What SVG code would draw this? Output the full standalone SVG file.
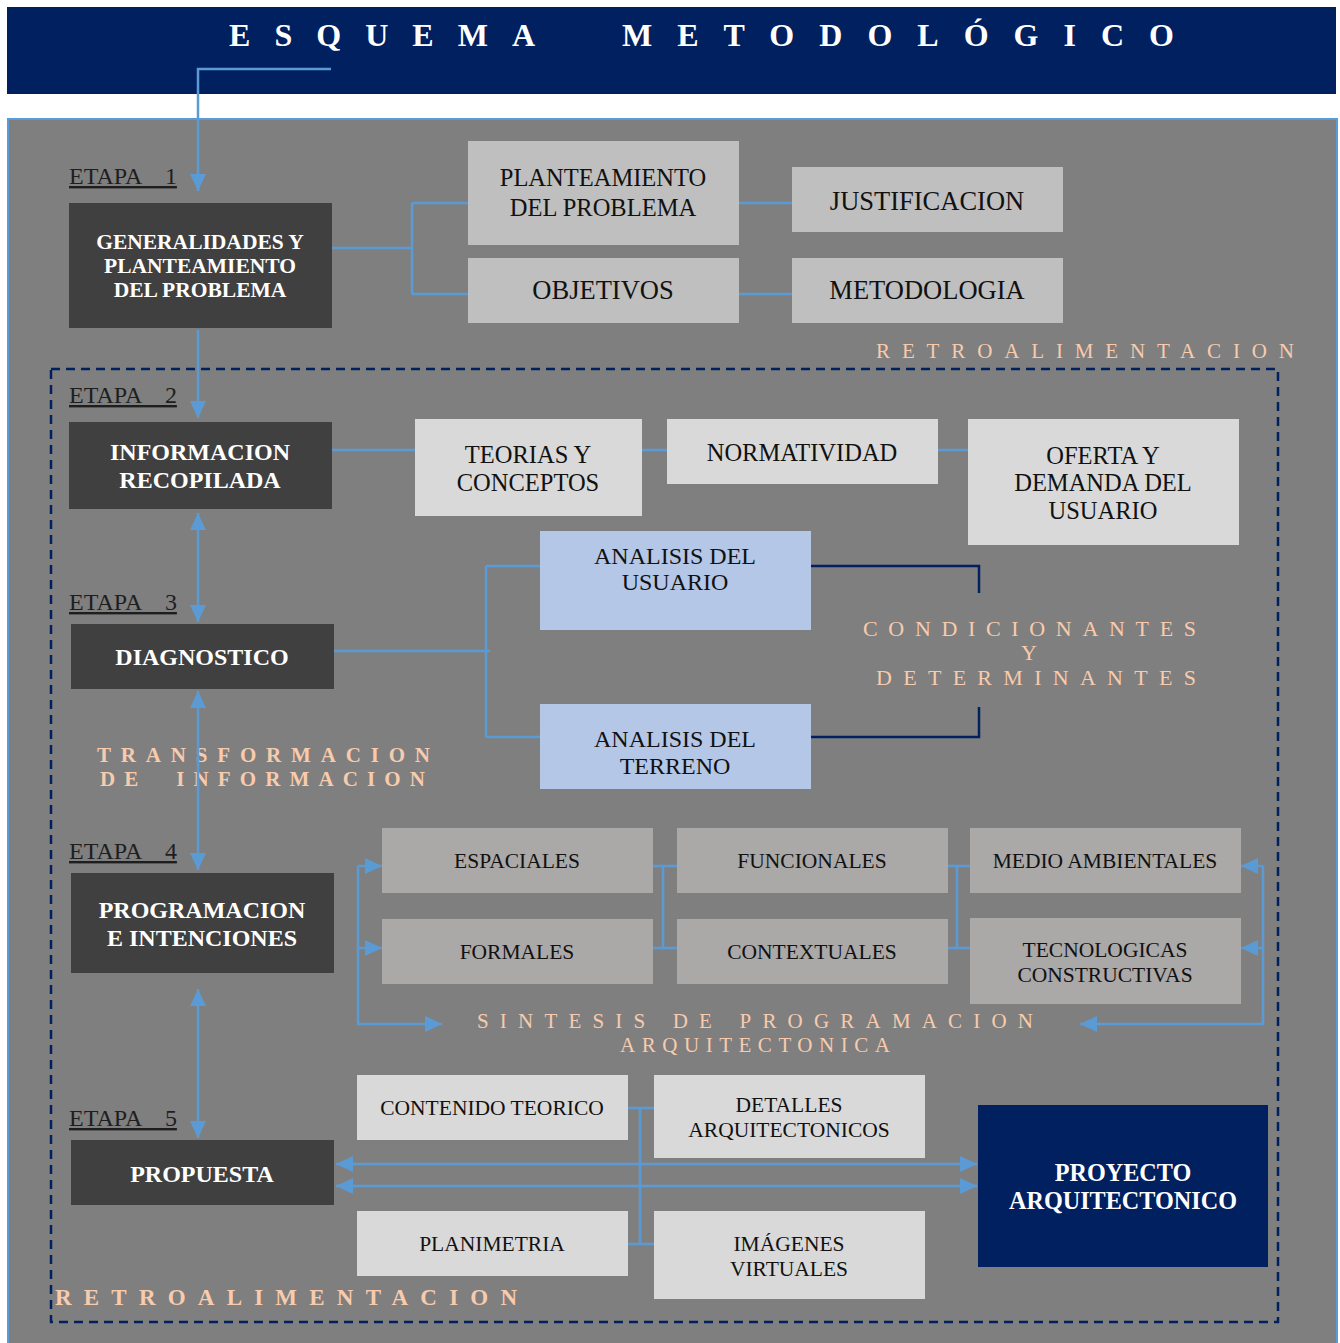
<svg xmlns="http://www.w3.org/2000/svg" width="1340" height="1343" viewBox="0 0 1340 1343">
<style>
.t{font-family:"Liberation Serif","Times New Roman",serif;}
.dk{fill:#404040;}
.l1{fill:#BFBFBF;}
.l2{fill:#D9D9D9;}
.l4{fill:#ABA8A8;}
.bl{fill:#B4C7E7;}
.wb{font-family:"Liberation Serif","Times New Roman",serif;font-weight:bold;fill:#FFFFFF;text-anchor:middle;}
.bk{font-family:"Liberation Serif","Times New Roman",serif;fill:#111111;text-anchor:middle;}
.et{font-family:"Liberation Serif","Times New Roman",serif;font-size:24px;fill:#1E1E1E;text-decoration:underline;white-space:pre;}
.pe{font-family:"Liberation Serif","Times New Roman",serif;fill:#F8CBAD;}
.cn{fill:none;stroke:#5B9BD5;stroke-width:2.5;}
.nv{fill:none;stroke:#002060;stroke-width:2.5;}
</style>
<defs>
<marker id="ah" markerUnits="userSpaceOnUse" markerWidth="17" markerHeight="16" refX="17" refY="8" orient="auto-start-reverse">
<path d="M0,0 L17,8 L0,16 z" fill="#5B9BD5"/>
</marker>
</defs>
<rect width="1340" height="1343" fill="#FFFFFF"/>
<g id="title">
<rect x="7" y="7" width="1329" height="87" fill="#002060"/>
<text class="t" x="229" y="46" font-size="32" font-weight="bold" fill="#FFFFFF" textLength="306" lengthAdjust="spacing">ESQUEMA</text>
<text class="t" x="622" y="46" font-size="32" font-weight="bold" fill="#FFFFFF" textLength="552" lengthAdjust="spacing">METODOLÓGICO</text>
</g>
<g id="panel">
<rect x="8" y="119" width="1329" height="1230" fill="#7F7F7F" stroke="#5B9BD5" stroke-width="2"/>
<rect x="51" y="369" width="1227" height="953" fill="none" stroke="#002060" stroke-width="2.5" stroke-dasharray="9,6"/>
</g>
<g id="labels">
<text class="et" x="69" y="184" xml:space="preserve">ETAPA    1</text>
<text class="et" x="69" y="403" xml:space="preserve">ETAPA    2</text>
<text class="et" x="69" y="610" xml:space="preserve">ETAPA    3</text>
<text class="et" x="69" y="859" xml:space="preserve">ETAPA    4</text>
<text class="et" x="69" y="1126" xml:space="preserve">ETAPA    5</text>
<text class="pe" x="876" y="358" font-size="21" textLength="418" lengthAdjust="spacing">RETROALIMENTACION</text>
<text class="pe" x="55" y="1305" font-size="23" font-weight="bold" textLength="462" lengthAdjust="spacing">RETROALIMENTACION</text>
<text class="pe" x="863" y="636" font-size="22" textLength="333" lengthAdjust="spacing">CONDICIONANTES</text>
<text class="pe" x="1029" y="660" font-size="22" text-anchor="middle">Y</text>
<text class="pe" x="876" y="685" font-size="22" textLength="320" lengthAdjust="spacing">DETERMINANTES</text>
<text class="pe" x="97" y="762" font-size="21" font-weight="bold" textLength="333" lengthAdjust="spacing">TRANSFORMACION</text>
<text class="pe" x="100" y="786" font-size="21" font-weight="bold" textLength="325" lengthAdjust="spacing" xml:space="preserve">DE  INFORMACION</text>
<text class="pe" x="477" y="1028" font-size="21" textLength="556" lengthAdjust="spacing" xml:space="preserve">SINTESIS DE PROGRAMACION</text>
<text class="pe" x="620" y="1052" font-size="21" textLength="270" lengthAdjust="spacing">ARQUITECTONICA</text>
</g>
<g id="connectors">
<path class="cn" d="M331,69 H198 V191" marker-end="url(#ah)"/>
<path class="cn" d="M332,248 H412 M412,203 V294 M412,203 H468 M412,294 H468 M739,203 H792 M739,294 H792"/>
<path class="cn" d="M198,330 V418" marker-end="url(#ah)"/>
<path class="cn" d="M332,450 H415 M642,450 H667 M938,450 H968"/>
<path class="cn" d="M198,513 V622" marker-start="url(#ah)" marker-end="url(#ah)"/>
<path class="cn" d="M334,651 H490 M486,566 V737 M486,566 H540 M486,737 H540"/>
<path class="nv" d="M811,566 H979 V593 M811,737 H979 V707"/>
<path class="cn" d="M198,691 V870" marker-start="url(#ah)" marker-end="url(#ah)"/>
<path class="cn" d="M653,866 H677 M653,948 H677 M663,866 V948 M948,866 H970 M948,948 H970 M957,866 V948"/>
<path class="cn" d="M358,866 H382" marker-end="url(#ah)"/>
<path class="cn" d="M358,948 H382" marker-end="url(#ah)"/>
<path class="cn" d="M358,866 V1024 H442" marker-end="url(#ah)"/>
<path class="cn" d="M1263,866 H1241" marker-end="url(#ah)"/>
<path class="cn" d="M1263,948 H1241" marker-end="url(#ah)"/>
<path class="cn" d="M1263,866 V1024 H1080" marker-end="url(#ah)"/>
<path class="cn" d="M198,989 V1138" marker-start="url(#ah)" marker-end="url(#ah)"/>
<path class="cn" d="M628,1108 H654 M628,1244 H654 M640,1108 V1244"/>
<path class="cn" d="M336,1164 H977" marker-start="url(#ah)" marker-end="url(#ah)"/>
<path class="cn" d="M336,1186 H977" marker-start="url(#ah)" marker-end="url(#ah)"/>
</g>
<g id="n-generalidades"><rect class="dk" x="69" y="203" width="263" height="125"/>
<text class="wb" font-size="21.5"><tspan x="200" y="249">GENERALIDADES Y</tspan><tspan x="200" y="273">PLANTEAMIENTO</tspan><tspan x="200" y="297">DEL PROBLEMA</tspan></text></g>
<g id="n-planteamiento"><rect class="l1" x="468" y="141" width="271" height="104"/>
<text class="bk" font-size="24.5"><tspan x="603" y="186">PLANTEAMIENTO</tspan><tspan x="603" y="216">DEL PROBLEMA</tspan></text></g>
<g id="n-justificacion"><rect class="l1" x="792" y="167" width="271" height="65"/>
<text class="bk" font-size="26.5" x="927" y="210">JUSTIFICACION</text></g>
<g id="n-objetivos"><rect class="l1" x="468" y="258" width="271" height="65"/>
<text class="bk" font-size="26.5" x="603" y="299">OBJETIVOS</text></g>
<g id="n-metodologia"><rect class="l1" x="792" y="258" width="271" height="65"/>
<text class="bk" font-size="26.5" x="927" y="299">METODOLOGIA</text></g>
<g id="n-informacion"><rect class="dk" x="69" y="422" width="263" height="87"/>
<text class="wb" font-size="24"><tspan x="200" y="460">INFORMACION</tspan><tspan x="200" y="488">RECOPILADA</tspan></text></g>
<g id="n-teorias"><rect class="l2" x="415" y="419" width="227" height="97"/>
<text class="bk" font-size="24.5"><tspan x="528" y="463">TEORIAS Y</tspan><tspan x="528" y="491">CONCEPTOS</tspan></text></g>
<g id="n-normatividad"><rect class="l2" x="667" y="419" width="271" height="65"/>
<text class="bk" font-size="24.5" x="802" y="461">NORMATIVIDAD</text></g>
<g id="n-oferta"><rect class="l2" x="968" y="419" width="271" height="126"/>
<text class="bk" font-size="24.5"><tspan x="1103" y="464">OFERTA Y</tspan><tspan x="1103" y="491">DEMANDA DEL</tspan><tspan x="1103" y="519">USUARIO</tspan></text></g>
<g id="n-diagnostico"><rect class="dk" x="71" y="624" width="263" height="65"/>
<text class="wb" font-size="24" x="202" y="665">DIAGNOSTICO</text></g>
<g id="n-usuario"><rect class="bl" x="540" y="531" width="271" height="99"/>
<text class="bk" font-size="24"><tspan x="675" y="564">ANALISIS DEL</tspan><tspan x="675" y="590">USUARIO</tspan></text></g>
<g id="n-terreno"><rect class="bl" x="540" y="704" width="271" height="85"/>
<text class="bk" font-size="24"><tspan x="675" y="747">ANALISIS DEL</tspan><tspan x="675" y="774">TERRENO</tspan></text></g>
<g id="n-programacion"><rect class="dk" x="71" y="873" width="263" height="100"/>
<text class="wb" font-size="24"><tspan x="202" y="918">PROGRAMACION</tspan><tspan x="202" y="946">E INTENCIONES</tspan></text></g>
<g id="n-espaciales"><rect class="l4" x="382" y="828" width="271" height="65"/>
<text class="bk" font-size="21.5" x="517" y="868">ESPACIALES</text></g>
<g id="n-funcionales"><rect class="l4" x="677" y="828" width="271" height="65"/>
<text class="bk" font-size="21.5" x="812" y="868">FUNCIONALES</text></g>
<g id="n-medio"><rect class="l4" x="970" y="828" width="271" height="65"/>
<text class="bk" font-size="21.5" x="1105" y="868">MEDIO AMBIENTALES</text></g>
<g id="n-formales"><rect class="l4" x="382" y="919" width="271" height="65"/>
<text class="bk" font-size="21.5" x="517" y="959">FORMALES</text></g>
<g id="n-contextuales"><rect class="l4" x="677" y="919" width="271" height="65"/>
<text class="bk" font-size="21.5" x="812" y="959">CONTEXTUALES</text></g>
<g id="n-tecnologicas"><rect class="l4" x="970" y="918" width="271" height="86"/>
<text class="bk" font-size="21.5"><tspan x="1105" y="957">TECNOLOGICAS</tspan><tspan x="1105" y="982">CONSTRUCTIVAS</tspan></text></g>
<g id="n-propuesta"><rect class="dk" x="71" y="1140" width="263" height="65"/>
<text class="wb" font-size="24" x="202" y="1182">PROPUESTA</text></g>
<g id="n-contenido"><rect class="l2" x="357" y="1075" width="271" height="65"/>
<text class="bk" font-size="21.5" x="492" y="1115">CONTENIDO TEORICO</text></g>
<g id="n-detalles"><rect class="l2" x="654" y="1075" width="271" height="83"/>
<text class="bk" font-size="21.5"><tspan x="789" y="1112">DETALLES</tspan><tspan x="789" y="1137">ARQUITECTONICOS</tspan></text></g>
<g id="n-planimetria"><rect class="l2" x="357" y="1211" width="271" height="65"/>
<text class="bk" font-size="21.5" x="492" y="1251">PLANIMETRIA</text></g>
<g id="n-imagenes"><rect class="l2" x="654" y="1211" width="271" height="88"/>
<text class="bk" font-size="21.5"><tspan x="789" y="1251">IMÁGENES</tspan><tspan x="789" y="1276">VIRTUALES</tspan></text></g>
<g id="n-proyecto"><rect x="978" y="1105" width="290" height="162" fill="#002060"/>
<text class="wb" font-size="24.2"><tspan x="1123" y="1181">PROYECTO</tspan><tspan x="1123" y="1209">ARQUITECTONICO</tspan></text></g>
</svg>
